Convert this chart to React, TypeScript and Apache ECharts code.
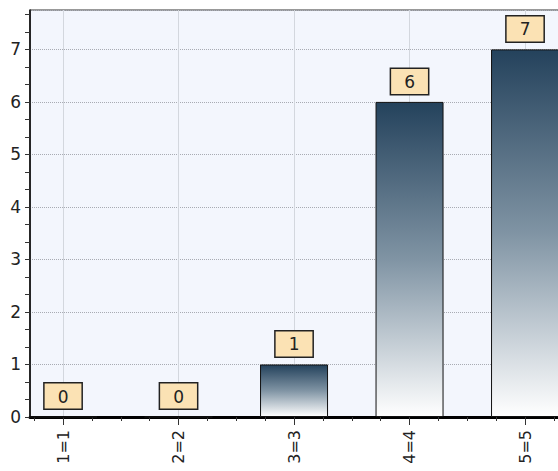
import React, { useEffect, useRef } from "react";
import * as echarts from "echarts";

const categories = ["1=1", "2=2", "3=3", "4=4", "5=5"];
const positions = [1, 2, 3, 4, 5];
const values = [0, 0, 1, 6, 7];
const yLabelValues = [0, 1, 2, 3, 4, 5, 6, 7];
const yMinorTicks = [
  0, 0.333, 0.667, 1, 1.333, 1.667, 2, 2.333, 2.667, 3, 3.333, 3.667, 4, 4.333,
  4.667, 5, 5.333, 5.667, 6, 6.333, 6.667, 7, 7.333, 7.667,
];
const xQuarterTicks = [
  0.75, 1, 1.25, 1.5, 1.75, 2, 2.25, 2.5, 2.75, 3, 3.25, 3.5, 3.75, 4, 4.25, 4.5,
  4.75, 5, 5.25,
];

const FONT = "DejaVu Sans";

export default function App() {
  const ref = useRef<HTMLDivElement>(null);
  useEffect(() => {
    if (!ref.current) return;
    document.body.style.overflow = "hidden";
    const chart = echarts.init(ref.current, null, { renderer: "svg" });
    const xMin = 0.714;
    const xMax = 5.32;
    const labelFor = (v: number) => {
      const i = positions.indexOf(v);
      return i >= 0 ? categories[i] : "";
    };
    chart.setOption({
      animation: false,
      backgroundColor: "#ffffff",
      grid: {
        left: 30,
        top: 10,
        right: 4,
        bottom: 54,
        show: true,
        backgroundColor: "#f3f6fd",
        borderColor: "#333333",
        borderWidth: 1,
      },
      xAxis: [
        {
          type: "value",
          min: xMin,
          max: xMax,
          position: "bottom",
          axisLine: { show: true, lineStyle: { color: "#000000", width: 3 } },
          axisTick: {
            show: true,
            customValues: positions,
            length: 8,
            lineStyle: { color: "#333333", width: 1 },
          },
          axisLabel: {
            customValues: positions,
            formatter: (v: number) => labelFor(v),
            rotate: 90,
            margin: 13,
            fontFamily: FONT,
            fontSize: 16,
            color: "#222222",
          },
          splitLine: {
            show: true,
            lineStyle: { color: "#d3d7de", width: 1, type: "solid" },
          },
        },
        {
          type: "value",
          min: xMin,
          max: xMax,
          position: "bottom",
          axisLine: { show: false },
          axisTick: {
            show: true,
            customValues: xQuarterTicks,
            length: 4,
            lineStyle: { color: "#333333", width: 1 },
          },
          axisLabel: { show: false },
          splitLine: { show: false },
        },
      ],
      yAxis: [
        {
          type: "value",
          min: 0,
          max: 7.75,
          interval: 1,
          axisLine: { show: true, lineStyle: { color: "#000000", width: 1.5 } },
          axisTick: { show: false },
          axisLabel: {
            customValues: yLabelValues,
            margin: 9,
            fontFamily: FONT,
            fontSize: 17,
            color: "#222222",
          },
          splitLine: {
            show: true,
            lineStyle: { color: "#a8abb3", width: 1, type: "dotted" },
          },
        },
        {
          type: "value",
          min: 0,
          max: 7.75,
          position: "left",
          axisLine: { show: false },
          axisTick: {
            show: true,
            customValues: yMinorTicks,
            length: 5,
            lineStyle: { color: "#333333", width: 1 },
          },
          axisLabel: { show: false },
          splitLine: { show: false },
        },
      ],
      series: [
        {
          type: "bar",
          xAxisIndex: 0,
          yAxisIndex: 0,
          data: positions.map((p, i) => [p, values[i]]),
          barWidth: 68,
          itemStyle: {
            color: new echarts.graphic.LinearGradient(0, 0, 0, 1, [
              { offset: 0, color: "#24425c" },
              { offset: 0.5, color: "#8094a4" },
              { offset: 1, color: "#ffffff" },
            ]),
            borderColor: "#111111",
            borderWidth: 1,
          },
          label: {
            show: true,
            position: "top",
            distance: 8,
            formatter: (p: any) => String(p.value[1]),
            fontFamily: FONT,
            fontSize: 17,
            color: "#222222",
            backgroundColor: "#fbe2b4",
            borderColor: "#222222",
            borderWidth: 1.5,
            borderRadius: 0,
            padding: [4, 13, 3, 13],
            lineHeight: 18,
          },
        },
      ],
    });
    return () => chart.dispose();
  }, []);
  return (
    <div
      ref={ref}
      style={{ position: "fixed", left: 0, top: 0, width: 566, height: 471 }}
    />
  );
}
